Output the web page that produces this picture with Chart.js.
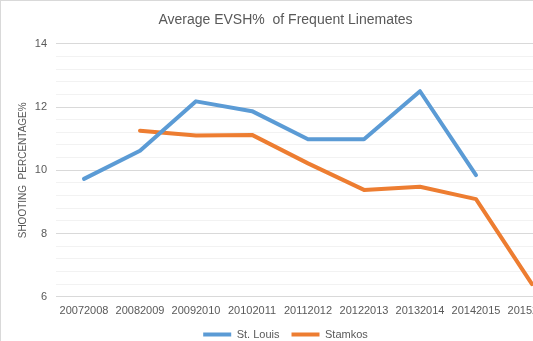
<!DOCTYPE html>
<html>
<head>
<meta charset="utf-8">
<script src="https://cdn.jsdelivr.net/npm/chart.js@4/dist/chart.umd.min.js"></script>
<style>
html, body { margin: 0; padding: 0; overflow: hidden; background: #fff; }
#wrap { position: absolute; left: 0; top: 0; width: 575px; height: 349px; border-left: 1px solid #d9d9d9; border-top: 1px solid #d9d9d9; }
</style>
</head>
<body>
<div id="wrap"><canvas id="chart" width="575" height="349"></canvas></div>
<script>
var SEASONS = ['20072008', '20082009', '20092010', '20102011', '20112012', '20122013', '20132014', '20142015', '20152016'];
var ST_LOUIS = [9.73, 10.62, 12.18, 11.87, 10.98, 10.98, 12.50, 9.85, null];
var STAMKOS = [null, 11.25, 11.10, 11.12, 10.22, 9.38, 9.48, 9.09, 6.40];
var Y_MIN = 6;
var Y_MAX = 14;
var Y_STEP = 0.4;
var Y_LABEL_STEP = 2;
var TEXT = '#595959';

Chart.defaults.font.family = "'Liberation Sans', Arial, sans-serif";

function isMajor(v) {
  var r = v / Y_LABEL_STEP;
  return Math.abs(r - Math.round(r)) < 1e-6;
}

var ctx = document.getElementById('chart');
var chart = new Chart(ctx, {
  type: 'line',
  data: {
    labels: SEASONS,
    datasets: [{
      label: 'St. Louis',
      data: ST_LOUIS,
      borderColor: '#5b9bd5',
      backgroundColor: '#5b9bd5',
      borderWidth: 4,
      pointRadius: 0,
      borderCapStyle: 'round',
      borderJoinStyle: 'round',
      fill: false
    }, {
      label: 'Stamkos',
      data: STAMKOS,
      borderColor: '#ed7d31',
      backgroundColor: '#ed7d31',
      borderWidth: 4,
      pointRadius: 0,
      borderCapStyle: 'round',
      borderJoinStyle: 'round',
      fill: false
    }]
  },
  options: {
    responsive: false,
    animation: false,
    devicePixelRatio: 1,
    layout: { padding: { left: 10, right: 16, top: 0, bottom: 0 } },
    plugins: {
      title: {
        display: true,
        text: 'Average EVSH%  of Frequent Linemates',
        color: TEXT,
        font: { size: 14, weight: 'normal' },
        padding: { top: 11, bottom: 15 }
      },
      legend: {
        position: 'bottom',
        labels: {
          color: TEXT,
          font: { size: 11 },
          usePointStyle: true,
          pointStyle: 'line',
          pointStyleWidth: 28,
          padding: 12
        }
      },
      tooltip: { enabled: false }
    },
    scales: {
      x: {
        offset: true,
        afterFit: function(scale) { scale.height -= 9; },
        grid: { display: false, drawTicks: false },
        border: { display: false },
        ticks: { color: TEXT, font: { size: 11 }, padding: 8, maxRotation: 0, autoSkip: false }
      },
      y: {
        min: Y_MIN,
        max: Y_MAX,
        afterFit: function(scale) { scale.width = 45; },
        border: { display: false },
        grid: {
          drawTicks: false,
          color: function(c) { return isMajor(c.tick.value) ? '#d9d9d9' : '#f2f2f2'; }
        },
        ticks: {
          stepSize: Y_STEP,
          autoSkip: false,
          color: TEXT,
          font: { size: 11 },
          padding: 9,
          callback: function(v) { return isMajor(v) ? String(Math.round(v)) : ''; }
        },
        title: {
          display: true,
          text: 'SHOOTING  PERCENTAGE%',
          color: TEXT,
          font: { size: 10 },
          padding: { top: 6, bottom: 0 }
        }
      }
    }
  }
});
</script>
</body>
</html>
